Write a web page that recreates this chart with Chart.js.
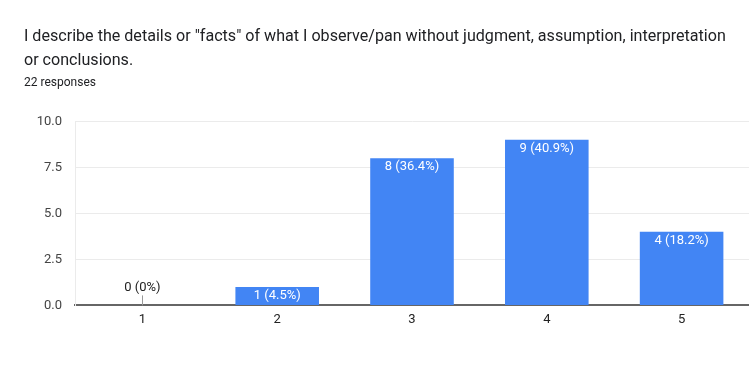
<!DOCTYPE html>
<html>
<head>
<meta charset="utf-8">
<script src="https://cdn.jsdelivr.net/npm/chart.js@4/dist/chart.umd.min.js"></script>
<style>
  html, body { margin: 0; padding: 0; background: #fff; }
  #wrap { width: 749px; height: 381px; position: relative; }
</style>
</head>
<body>
<div id="wrap"><canvas id="c" width="749" height="381"></canvas></div>
<script>
const titleLines = ['I describe the details or "facts" of what I observe/pan without judgment, assumption, interpretation', 'or conclusions.'];
const subtitleText = '22 responses';
const categories = ['1', '2', '3', '4', '5'];
const counts = [0, 1, 8, 9, 4];
const percents = ['0%', '4.5%', '36.4%', '40.9%', '18.2%'];
const yTicks = [0, 2.5, 5, 7.5, 10];

const barLabels = {
  id: 'barLabels',
  afterDatasetsDraw(chart) {
    const ctx = chart.ctx;
    const meta = chart.getDatasetMeta(0);
    const yScale = chart.scales.y;
    const zeroY = yScale.getPixelForValue(0);
    ctx.save();
    ctx.font = '13px Roboto, Arial, sans-serif';
    ctx.textAlign = 'center';
    ctx.textBaseline = 'middle';
    meta.data.forEach((bar, i) => {
      const label = counts[i] + ' (' + percents[i] + ')';
      if (counts[i] === 0) {
        ctx.strokeStyle = '#999';
        ctx.lineWidth = 1;
        ctx.beginPath();
        ctx.moveTo(Math.round(bar.x) + 0.5, zeroY - 10);
        ctx.lineTo(Math.round(bar.x) + 0.5, zeroY);
        ctx.stroke();
        ctx.fillStyle = '#222';
        ctx.fillText(label, bar.x, zeroY - 18);
      } else {
        ctx.fillStyle = '#ffffff';
        ctx.fillText(label, bar.x, bar.y + 9);
      }
    });
    ctx.restore();
  }
};

new Chart(document.getElementById('c'), {
  type: 'bar',
  data: {
    labels: categories,
    datasets: [{
      data: counts,
      backgroundColor: '#4285f4',
      borderWidth: 0,
      barPercentage: 0.62,
      categoryPercentage: 1.0
    }]
  },
  options: {
    responsive: false,
    animation: false,
    events: [],
    layout: { padding: { left: 24, right: 0, top: 0, bottom: 46 } },
    plugins: {
      legend: { display: false },
      tooltip: { enabled: false },
      title: {
        display: true,
        text: titleLines,
        align: 'start',
        color: '#202124',
        font: { family: 'Roboto, Arial, sans-serif', size: 16.1, weight: 'normal', lineHeight: 1.55 },
        padding: { top: 24, bottom: 2 }
      },
      subtitle: {
        display: true,
        text: subtitleText,
        align: 'start',
        color: '#202124',
        font: { family: 'Roboto, Arial, sans-serif', size: 12, weight: 'normal', lineHeight: 1.2 },
        padding: { top: 0, bottom: 31 }
      }
    },
    scales: {
      x: {
        grid: { display: false, drawTicks: false },
        border: { display: true, color: '#666', width: 2 },
        ticks: { color: '#222', font: { family: 'Roboto, Arial, sans-serif', size: 13 }, padding: 7 }
      },
      y: {
        min: 0,
        max: 10,
        afterBuildTicks(scale) { scale.ticks = yTicks.map(v => ({ value: v })); },
        afterFit(scale) { scale.width = 51; },
        grid: { color: '#ebebeb', drawTicks: false, lineWidth: 1 },
        border: { display: true, color: '#ebebeb' },
        ticks: {
          color: '#444',
          padding: 13,
          font: { family: 'Roboto, Arial, sans-serif', size: 13 },
          callback: (v) => Number(v).toFixed(1)
        }
      }
    }
  },
  plugins: [barLabels]
});
</script>
</body>
</html>
